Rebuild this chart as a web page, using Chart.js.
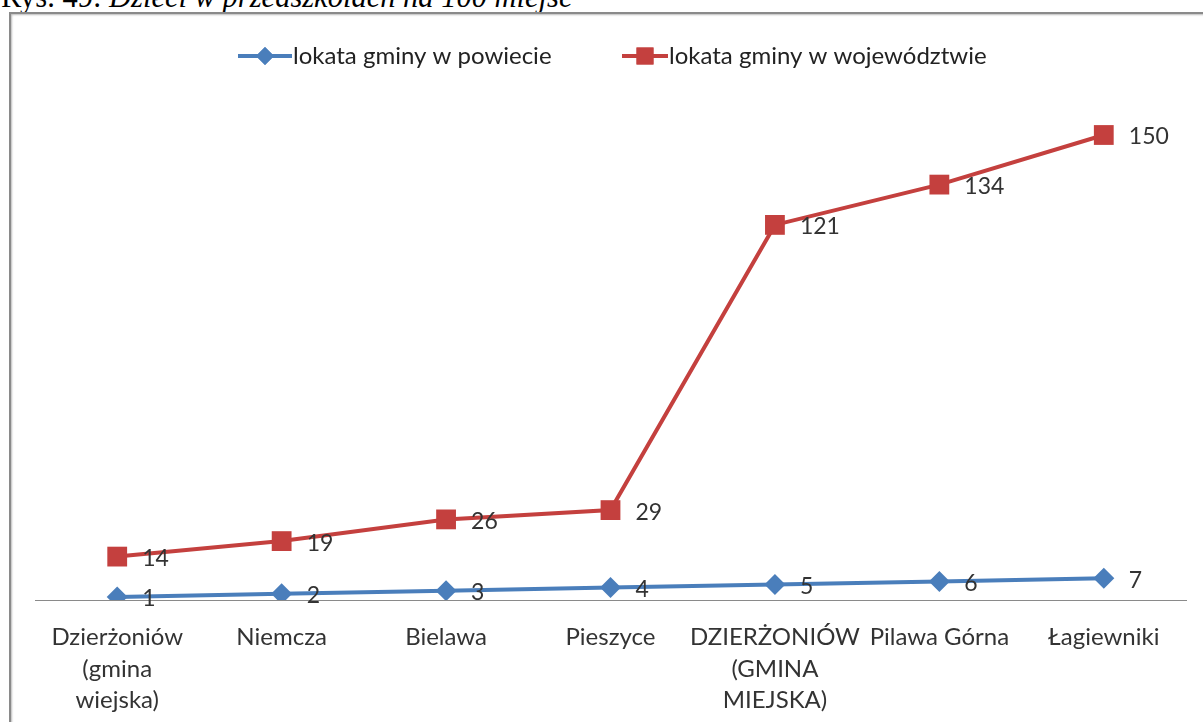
<!DOCTYPE html>
<html>
<head>
<meta charset="utf-8">
<script src="https://cdn.jsdelivr.net/npm/chart.js@4"></script>
<style>
  html, body { margin:0; padding:0; background:#fff; width:1203px; height:722px; overflow:hidden; }
  #title { position:absolute; left:1px; top:-18.5px; font-family:"Liberation Serif","DejaVu Serif",serif; font-size:30.5px; line-height:30.5px; color:#000; white-space:nowrap; }
  #title i { font-style:italic; }
  #box { position:absolute; left:9px; top:12px; width:1220px; height:740px; border:2px solid #8a8a8a; box-shadow: 1px 1px 2px #bbb inset; }
  #wrap { position:absolute; left:0; top:0; width:1203px; height:722px; }
</style>
</head>
<body>
<div id="title">Rys. 49: <i>Dzieci w przedszkolach na 100 miejsc</i></div>
<div id="box"></div>
<div id="wrap"><canvas id="c" width="1203" height="722"></canvas></div>
<script>
const categories = [
  ["Dzierżoniów", "(gmina", "wiejska)"],
  "Niemcza",
  "Bielawa",
  "Pieszyce",
  ["DZIERŻONIÓW", "(GMINA", "MIEJSKA)"],
  "Pilawa Górna",
  "Łagiewniki"
];
const seriesNames = ["lokata gminy w powiecie", "lokata gminy w województwie"];
const lokataPowiat = [1, 2, 3, 4, 5, 6, 7];
const lokataWojewodztwo = [14, 19, 26, 29, 121, 134, 150];

const BLUE = "#4A7EBB";
const RED = "#C4403E";
const FONT = "Lato, 'Open Sans', sans-serif";

const legendPlugin = {
  id: "customLegend",
  afterDraw(chart) {
    const ctx = chart.ctx;
    const items = [
      { x0: 238, x1: 292, text: seriesNames[0], color: BLUE, style: "rectRot", r: 9 },
      { x0: 622, x1: 668, text: seriesNames[1], color: RED, style: "rect", r: 12 }
    ];
    const y = 56;
    ctx.save();
    items.forEach(it => {
      ctx.strokeStyle = it.color;
      ctx.lineWidth = 4;
      ctx.beginPath();
      ctx.moveTo(it.x0, y);
      ctx.lineTo(it.x1, y);
      ctx.stroke();
      ctx.fillStyle = it.color;
      Chart.helpers.drawPoint(ctx, { pointStyle: it.style, radius: it.r, borderWidth: 0 }, (it.x0 + it.x1) / 2, y);
      ctx.fill();
      ctx.fillStyle = "#222";
      ctx.font = "24px " + FONT;
      ctx.textBaseline = "middle";
      ctx.textAlign = "left";
      ctx.fillText(it.text, it.x1 + 1, y);
    });
    ctx.restore();
  }
};

const dataLabelPlugin = {
  id: "dataLabels",
  afterDatasetsDraw(chart) {
    const ctx = chart.ctx;
    ctx.save();
    ctx.font = "23px " + FONT;
    ctx.fillStyle = "#333";
    ctx.textBaseline = "middle";
    ctx.textAlign = "left";
    chart.data.datasets.forEach((ds, i) => {
      const meta = chart.getDatasetMeta(i);
      meta.data.forEach((pt, j) => {
        ctx.fillText(String(ds.data[j]), pt.x + 25, pt.y + 2);
      });
    });
    ctx.restore();
  }
};

new Chart(document.getElementById("c"), {
  type: "line",
  data: {
    labels: categories,
    datasets: [
      {
        label: seriesNames[0],
        data: lokataPowiat,
        borderColor: BLUE,
        backgroundColor: BLUE,
        borderWidth: 4,
        pointStyle: "rectRot",
        pointRadius: 10.5,
        pointBorderWidth: 0,
        tension: 0
      },
      {
        label: seriesNames[1],
        data: lokataWojewodztwo,
        borderColor: RED,
        backgroundColor: RED,
        borderWidth: 4,
        pointStyle: "rect",
        pointRadius: 14,
        pointBorderWidth: 0,
        tension: 0
      }
    ]
  },
  options: {
    responsive: false,
    animation: false,
    devicePixelRatio: 1,
    layout: { padding: { left: 35, right: 17, top: 104, bottom: 0 } },
    plugins: { legend: { display: false }, tooltip: { enabled: false } },
    scales: {
      x: {
        offset: true,
        grid: { display: false, drawTicks: false },
        border: { display: true, color: "#8a8a8a", width: 1 },
        ticks: {
          color: "#333",
          font: { family: FONT, size: 24, lineHeight: 1.3 },
          padding: 22,
          maxRotation: 0,
          autoSkip: false
        },
        afterFit(s) { s.height = 122; }
      },
      y: {
        display: false,
        min: 0,
        max: 160
      }
    }
  },
  plugins: [legendPlugin, dataLabelPlugin]
});
</script>
</body>
</html>
